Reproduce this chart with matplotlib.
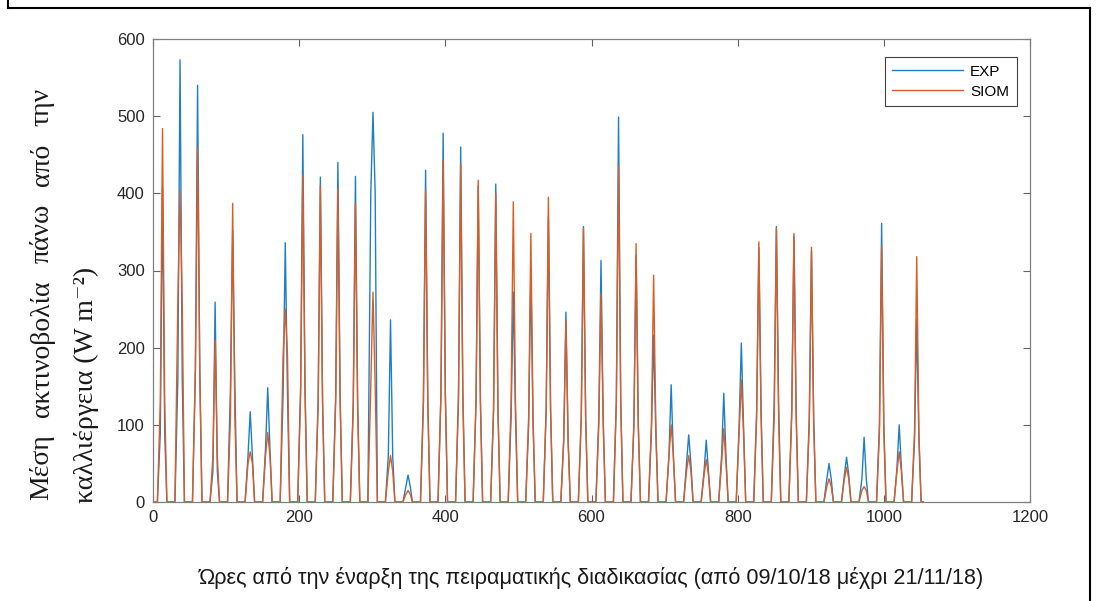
import matplotlib
matplotlib.use("Agg")
import matplotlib.pyplot as plt
from matplotlib.lines import Line2D
import numpy as np


# Daily peaks (W m-2), one per day, 44 days
exp_peak = [407, 573, 540, 259, 352, 117, 148, 336, 476, 421,
            440, 422, 505, 236, 35, 430, 478, 460, 410, 412,
            272, 300, 370, 246, 357, 313, 499, 320, 216, 152,
            87, 80, 141, 206, 330, 357, 345, 325, 50, 58,
            84, 361, 100, 237]
siom_peak = [484, 404, 460, 210, 387, 65, 90, 250, 424, 410,
             405, 387, 272, 60, 15, 404, 443, 439, 417, 400,
             389, 348, 395, 235, 355, 270, 435, 335, 294, 100,
             60, 55, 95, 158, 337, 355, 348, 330, 30, 45,
             20, 331, 65, 318]

# values a few hours either side of the peak (the kinks at the base of each spike)
exp_shoulder = [90, 160, 170, 40, 150, 60, 70, 140, 150, 130,
                140, 130, 400, 60, 20, 130, 140, 140, 130, 120,
                110, 100, 120, 80, 110, 110, 130, 100, 90, 60,
                50, 40, 60, 100, 120, 130, 120, 110, 30, 35,
                30, 100, 45, 80]
siom_shoulder = [130, 260, 170, 60, 110, 50, 60, 190, 140, 130,
                 130, 120, 150, 40, 10, 130, 140, 130, 130, 120,
                 130, 110, 120, 80, 110, 100, 130, 100, 100, 60,
                 40, 35, 50, 90, 110, 110, 110, 100, 20, 30,
                 15, 90, 40, 90]

# hour of day for sunrise, morning, peak, afternoon, sunset
day_hours = [6, 10, 13, 16, 19]


def build(peaks, shoulders):
    t, v = [0], [0]
    for d, (pk, sh) in enumerate(zip(peaks, shoulders)):
        base = 24 * d
        t += [base + h for h in day_hours]
        v += [0, sh, pk, sh, 0]
    t.append(24 * (len(peaks) - 1) + 22)
    v.append(0)
    return np.array(t), np.array(v)


t_exp, y_exp = build(exp_peak, exp_shoulder)
t_siom, y_siom = build(siom_peak, siom_shoulder)

sans = ['Liberation Sans', 'DejaVu Sans']
serif = ['Liberation Serif', 'DejaVu Serif']

W, H = 1098, 601
fig = plt.figure(figsize=(W / 100, H / 100), dpi=100)
ax = fig.add_axes([153 / W, 1 - 502 / H, (1030 - 153) / W, (502 - 39) / H])

ax.plot(t_exp, y_exp, color='#1f7fc4', lw=1.0, label='EXP')
ax.plot(t_siom, y_siom, color='#dc5d24', lw=1.0, label='SIOM')

ax.set_xlim(0, 1200)
ax.set_ylim(0, 600)
ax.set_xticks(np.arange(0, 1201, 200))
ax.set_yticks(np.arange(0, 601, 100))
ax.tick_params(direction='in', length=5, width=0.8, color='#606060',
               labelcolor='#262626', labelsize=12, top=True, right=True, pad=6)
for lab in ax.get_xticklabels() + ax.get_yticklabels():
    lab.set_family(sans)
for s in ax.spines.values():
    s.set_color('#808080')
    s.set_linewidth(0.9)

leg = ax.legend(loc='upper right', bbox_to_anchor=(0.985, 0.961), borderaxespad=0,
                prop={'family': sans, 'size': 11}, handlelength=4.6,
                fancybox=False, framealpha=1, borderpad=0.5, labelspacing=0.4,
                handletextpad=0.5)
leg.get_frame().set_edgecolor('#404040')
leg.get_frame().set_linewidth(0.8)

ax.set_xlabel('Ώρες από την έναρξη της πειραματικής διαδικασίας (από 09/10/18 μέχρι 21/11/18)',
              family=sans, fontsize=15.6, color='#1a1a1a', labelpad=30)

# y label: two lines, the first one justified word by word between y=88 and y=500 px
words = ['Μέση', 'ακτινοβολία', 'πάνω', 'από', 'την']
renderer = fig.canvas.get_renderer()
lens = []
for w in words:
    tmp = fig.text(0, 0, w, family=serif, fontsize=20)
    lens.append(tmp.get_window_extent(renderer).width)
    tmp.remove()
y_lo, y_hi = 500, 88
gap = ((y_lo - y_hi) - sum(lens)) / (len(words) - 1)
pos = y_lo
for w, L in zip(words, lens):
    fig.text(42 / W, 1 - (pos - L / 2) / H, w, rotation=90, ha='center', va='center',
             family=serif, fontsize=20, color='#1a1a1a')
    pos -= L + gap
fig.text(86 / W, 1 - 385 / H, 'καλλιέργεια (W m⁻²)', rotation=90,
         ha='center', va='center', family=serif, fontsize=20, color='#1a1a1a')

# frame round the picture (cut off at the bottom)
for xs, ys in [([8, 8], [-10, 8]), ([8, 1090], [8, 8]), ([1090, 1090], [8, H + 10])]:
    fig.add_artist(Line2D([x / W for x in xs], [1 - y / H for y in ys],
                          transform=fig.transFigure, color='black', lw=1.5))

fig.savefig('out.png', dpi=100)
